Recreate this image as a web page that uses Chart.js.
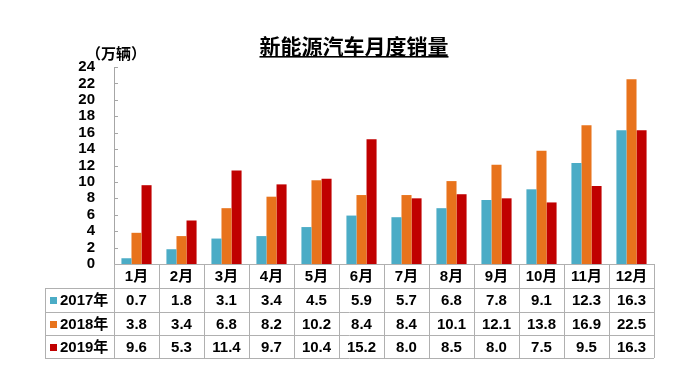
<!DOCTYPE html>
<html>
<head>
<meta charset="utf-8">
<script src="https://cdn.jsdelivr.net/npm/chart.js@4/dist/chart.umd.min.js"></script>
<style>
html,body{margin:0;padding:0;background:#fff;}
#wrap{width:693px;height:382px;position:relative;}
</style>
</head>
<body>
<div id="wrap"><canvas id="c" width="693" height="382"></canvas></div>
<script>
const titleText = '新能源汽车月度销量';
const unitText = '（万辆）';
const months = ['1月','2月','3月','4月','5月','6月','7月','8月','9月','10月','11月','12月'];
const seriesNames = ['2017年','2018年','2019年'];
const sales2017 = [0.7,1.8,3.1,3.4,4.5,5.9,5.7,6.8,7.8,9.1,12.3,16.3];
const sales2018 = [3.8,3.4,6.8,8.2,10.2,8.4,8.4,10.1,12.1,13.8,16.9,22.5];
const sales2019 = [9.6,5.3,11.4,9.7,10.4,15.2,8.0,8.5,8.0,7.5,9.5,16.3];
const yMin = 0, yMax = 24, yStep = 2;

const colors = ['#4BACC6','#E8731C','#C00000'];
const allSeries = [sales2017, sales2018, sales2019];
const FONT = '"Liberation Sans", Arial, "Noto Sans CJK SC", sans-serif';

const tablePlugin = {
  id: 'tablePlugin',
  afterDraw(chart) {
    const ctx = chart.ctx;
    const ca = chart.chartArea;
    const x = chart.scales.x, y = chart.scales.y;
    ctx.save();
    // title
    ctx.fillStyle = '#000';
    ctx.font = 'bold 21px "Noto Sans CJK SC", sans-serif';
    ctx.textAlign = 'center';
    ctx.textBaseline = 'alphabetic';
    const tx = 354, ty = 54;
    ctx.fillText(titleText, tx, ty);
    const tw = ctx.measureText(titleText).width;
    ctx.fillRect(tx - tw/2, ty + 2, tw, 1.6);
    // unit
    ctx.font = 'bold 15px "Noto Sans CJK SC", sans-serif';
    ctx.textAlign = 'left';
    ctx.textBaseline = 'middle';
    ctx.fillText(unitText, 86, 53);
    // inner ticks
    ctx.strokeStyle = '#A6A6A6';
    ctx.lineWidth = 1;
    y.ticks.forEach(t => {
      const py = Math.round(y.getPixelForValue(t.value)) + 0.5;
      ctx.beginPath(); ctx.moveTo(ca.left, py); ctx.lineTo(ca.left + 4, py); ctx.stroke();
    });
    // table
    const rows = [ca.bottom, 288, 312, 335, 358];
    const tLeft = 45;
    const n = months.length;
    const half = (x.getPixelForValue(1) - x.getPixelForValue(0)) / 2;
    ctx.strokeStyle = '#B0B0B0';
    ctx.beginPath();
    ctx.moveTo(ca.left, rows[0] + 0.5); ctx.lineTo(ca.right, rows[0] + 0.5);
    for (let i = 1; i < rows.length; i++) {
      ctx.moveTo(tLeft, rows[i] + 0.5); ctx.lineTo(ca.right, rows[i] + 0.5);
    }
    ctx.moveTo(tLeft + 0.5, rows[1]); ctx.lineTo(tLeft + 0.5, rows[4]);
    for (let i = 0; i <= n; i++) {
      const px = Math.round(x.getPixelForValue(i) - half) + 0.5;
      ctx.moveTo(px, rows[0]); ctx.lineTo(px, rows[4]);
    }
    ctx.stroke();
    // category labels
    ctx.fillStyle = '#000';
    ctx.font = 'bold 15px ' + FONT;
    ctx.textAlign = 'center';
    ctx.textBaseline = 'middle';
    months.forEach((m, i) => {
      ctx.fillText(m, x.getPixelForValue(i), (rows[0] + rows[1]) / 2 + 1);
    });
    // data rows
    allSeries.forEach((s, r) => {
      const cy = (rows[r + 1] + rows[r + 2]) / 2 + 1;
      ctx.fillStyle = colors[r];
      ctx.fillRect(50, Math.round(cy - 4), 7, 7);
      ctx.fillStyle = '#000';
      ctx.textAlign = 'left';
      ctx.fillText(seriesNames[r], 60, cy);
      ctx.textAlign = 'center';
      s.forEach((v, i) => {
        ctx.fillText(v.toFixed(1), x.getPixelForValue(i), cy);
      });
    });
    ctx.restore();
  }
};

new Chart(document.getElementById('c'), {
  type: 'bar',
  data: {
    labels: months,
    datasets: allSeries.map((s, i) => ({
      label: seriesNames[i],
      data: s,
      backgroundColor: colors[i],
      borderWidth: 0,
      categoryPercentage: 0.67,
      barPercentage: 1.0
    }))
  },
  options: {
    responsive: false,
    animation: false,
    layout: { padding: { top: 67, left: 0, right: 39, bottom: 0 } },
    plugins: { legend: { display: false }, title: { display: false }, tooltip: { enabled: false } },
    scales: {
      x: {
        ticks: { display: false },
        grid: { display: false },
        border: { display: false },
        afterFit(scale) { scale.height = 118; }
      },
      y: {
        min: yMin, max: yMax,
        ticks: { stepSize: yStep, autoSkip: false, padding: 19, color: '#000', font: { family: FONT, size: 15, weight: 'bold' } },
        grid: { display: false, drawTicks: false },
        border: { display: true, color: '#A6A6A6', width: 1 },
        afterFit(scale) { scale.width = 114; }
      }
    }
  },
  plugins: [tablePlugin]
});
</script>
</body>
</html>
